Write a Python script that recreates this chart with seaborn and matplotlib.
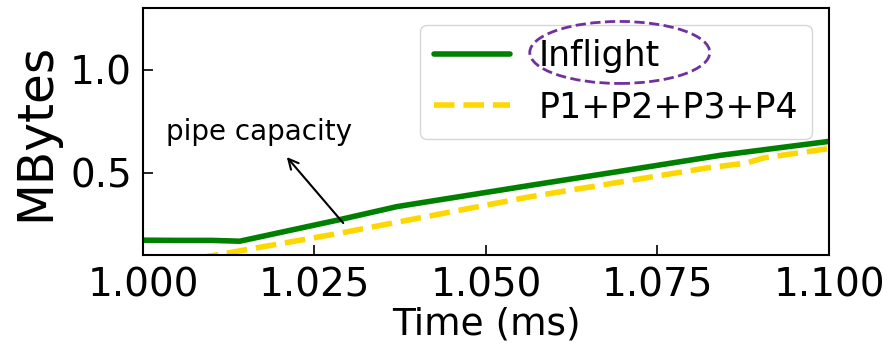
import matplotlib
matplotlib.use("Agg")
import matplotlib.pyplot as plt
from matplotlib.patches import Ellipse
import seaborn as sns
import pandas as pd

# Data
inflight_t = [1.000, 1.005, 1.010, 1.0141, 1.0287, 1.037, 1.0564, 1.0692, 1.0841, 1.100]
inflight_v = [0.172, 0.171, 0.171, 0.167, 0.272, 0.335, 0.438, 0.505, 0.584, 0.652]
sum_t = [1.008, 1.0122, 1.0287, 1.0564, 1.0822, 1.0880, 1.0905, 1.100]
sum_v = [0.085, 0.109, 0.206, 0.383, 0.523, 0.547, 0.572, 0.617]
labels = ["Inflight", "P1+P2+P3+P4"]
xticks = [1.000, 1.025, 1.050, 1.075, 1.100]
yticks = [0.5, 1.0]

sns.set_style("white")
plt.rcParams['font.family'] = ['DejaVu Sans']
plt.rcParams['text.color'] = 'black'
plt.rcParams['axes.labelcolor'] = 'black'
plt.rcParams['xtick.color'] = 'black'
plt.rcParams['ytick.color'] = 'black'

fig = plt.figure(figsize=(8.91, 3.46), dpi=100)
ax = fig.add_axes([143/891, 1-255/346, (829-143)/891, (255-8)/346])

df1 = pd.DataFrame({"t": inflight_t, "v": inflight_v})
df2 = pd.DataFrame({"t": sum_t, "v": sum_v})
sns.lineplot(data=df1, x="t", y="v", ax=ax, color="green", lw=4, label=labels[0])
sns.lineplot(data=df2, x="t", y="v", ax=ax, color="gold", lw=4, ls="--", label=labels[1])

ax.set_xlim(1.000, 1.100)
ax.set_ylim(0.1, 1.3)
ax.set_xticks(xticks)
ax.set_xticklabels([f"{x:.3f}" for x in xticks])
ax.set_yticks(yticks)
ax.set_yticklabels([f"{y:.1f}" for y in yticks])
ax.tick_params(direction="in", length=7, width=1.2, labelsize=28, pad=8,
               bottom=True, left=True, top=False, right=False,
               colors="black", labelcolor="black")
for s in ax.spines.values():
    s.set_color("black")
    s.set_linewidth(1.5)
ax.set_xlabel("Time (ms)", fontsize=27, labelpad=2, color="black")
ax.set_ylabel("MBytes", fontsize=35, labelpad=8, color="black")

leg = ax.legend(loc="upper right", fontsize=25, handlelength=2.2, frameon=True,
                borderaxespad=0.5, labelcolor="black")
leg.get_frame().set_edgecolor("#cccccc")

ax.annotate("", xy=(1.0207, 0.586), xytext=(1.02945, 0.245),
            arrowprops=dict(arrowstyle="->", color="black", lw=1.5, mutation_scale=18))
ax.text(1.0169, 0.698, "pipe capacity", fontsize=20, ha="center", va="center",
        color="black")

ell = Ellipse((0.695, 0.82), 180/686, 62/247, transform=ax.transAxes, fill=False,
              edgecolor="#7030A0", lw=2, ls="--", zorder=10, clip_on=False)
ax.add_artist(ell)

fig.savefig("out.png", dpi=100)
